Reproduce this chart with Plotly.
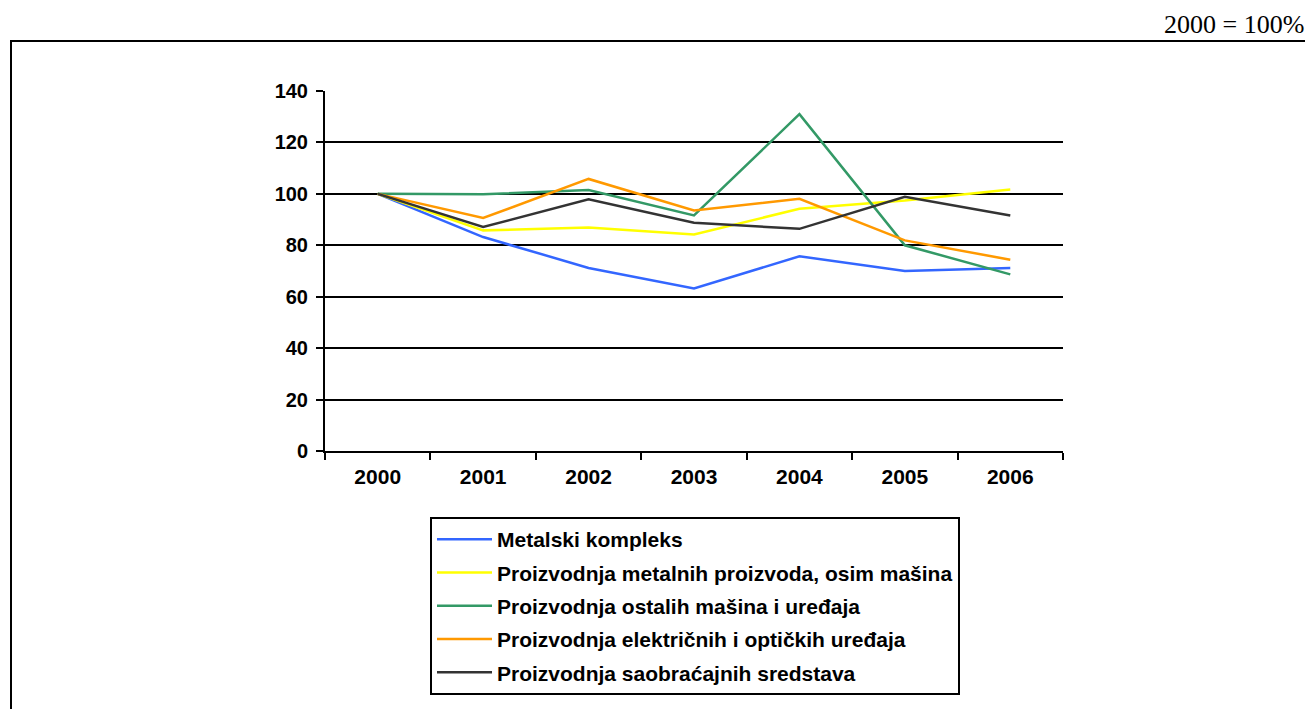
import plotly.graph_objects as go

years = ["2000", "2001", "2002", "2003", "2004", "2005", "2006"]
metalski = [100, 83.2, 71.2, 63.2, 75.7, 70.0, 71.2]
metalnih = [100, 85.8, 86.9, 84.2, 94.2, 97.4, 101.7]
ostalih = [100, 99.8, 101.5, 91.6, 131.0, 80.0, 68.7]
elektricnih = [100, 90.6, 105.8, 93.5, 98.1, 81.9, 74.4]
saobracajnih = [100, 87.1, 97.9, 88.8, 86.4, 98.9, 91.6]

names = [
    "Metalski kompleks",
    "Proizvodnja metalnih proizvoda, osim mašina",
    "Proizvodnja ostalih mašina i uređaja",
    "Proizvodnja električnih i optičkih uređaja",
    "Proizvodnja saobraćajnih sredstava",
]
series = [metalski, metalnih, ostalih, elektricnih, saobracajnih]
colors = ["#3366FF", "#FFFF00", "#339966", "#FF9900", "#333333"]

# page has an 8px body margin; work in page pixels and convert
OFF = 8
W, H = 1313 - OFF, 709 - OFF
L, R, T, B = 325, 1063, 91, 451  # page pixel positions of plot area

fig = go.Figure()
for i, (n, s, c) in enumerate(zip(names, series, colors)):
    fig.add_trace(go.Scatter(x=years, y=s, name=n, mode="lines",
                             line=dict(color=c, width=2.5),
                             legendgroup=f"g{i}"))

def px_x(p):
    return (p - L) / (R - L)

def px_y(p):
    return (B - p) / (B - T)

fig.update_layout(
    width=W, height=H,
    margin=dict(l=L - OFF, r=W - (R - OFF), t=T - OFF, b=H - (B - OFF)),
    plot_bgcolor="white", paper_bgcolor="white",
    font=dict(family="Liberation Sans, Arial", size=21, color="black"),
    showlegend=True,
    legend=dict(
        x=px_x(430), y=px_y(517), xanchor="left", yanchor="top",
        bordercolor="black", borderwidth=2, bgcolor="white",
        font=dict(family="Liberation Sans, Arial", size=21, color="black", weight="bold"),
        traceorder="grouped", tracegroupgap=3, itemwidth=55,
    ),
    xaxis=dict(
        type="category", range=[-0.5, 6.5],
        showline=True, linecolor="black", linewidth=2,
        ticks="outside", tickson="boundaries", ticklen=7, tickwidth=2, tickcolor="black",
        showgrid=False, ticklabelstandoff=6,
        tickfont=dict(family="Liberation Sans, Arial", size=21, weight="bold"),
    ),
    yaxis=dict(
        range=[0, 140], dtick=20,
        showline=True, linecolor="black", linewidth=2,
        ticks="outside", ticklen=7, tickwidth=2, tickcolor="black",
        showgrid=True, gridcolor="black", gridwidth=2,
        zeroline=False, ticklabelstandoff=4,
        tickfont=dict(family="Liberation Sans, Arial", size=20, weight="bold"),
    ),
    shapes=[
        dict(type="line", xref="paper", yref="paper",
             x0=px_x(10), x1=px_x(1320), y0=px_y(41), y1=px_y(41),
             line=dict(color="black", width=2)),
        dict(type="line", xref="paper", yref="paper",
             x0=px_x(11), x1=px_x(11), y0=px_y(40), y1=px_y(720),
             line=dict(color="black", width=2)),
    ],
    annotations=[
        dict(text="2000 = 100%", xref="paper", yref="paper",
             x=px_x(1306), y=px_y(24), xanchor="right", yanchor="middle",
             showarrow=False,
             font=dict(family="Liberation Serif, Times New Roman", size=26, color="black")),
    ],
)

fig.write_html("out.html")
